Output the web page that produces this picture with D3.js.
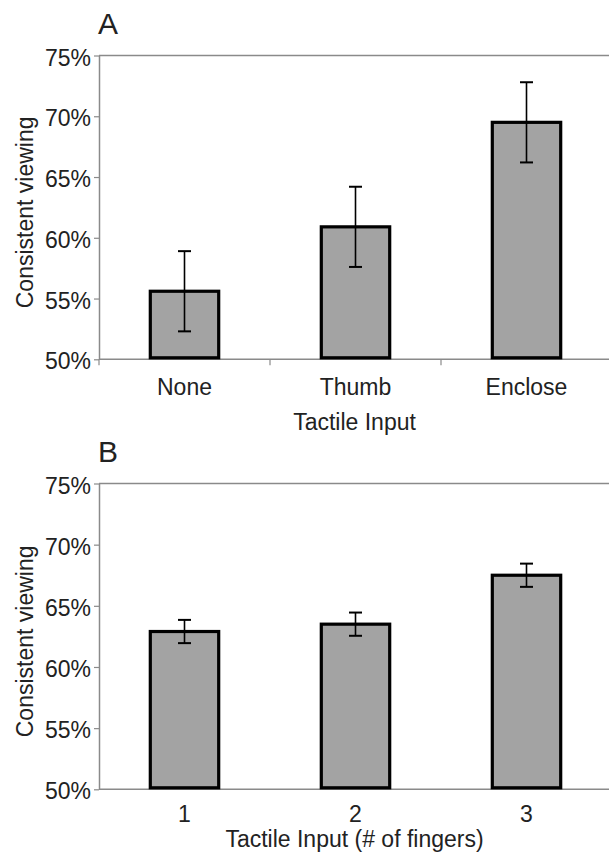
<!DOCTYPE html>
<html>
<head>
<meta charset="utf-8">
<script src="https://cdn.jsdelivr.net/npm/d3@7"></script>
<style>
  body { margin: 0; background: #fff; }
  svg { display: block; }
  text { font-family: "Liberation Sans", Arial, Helvetica, sans-serif; fill: #222; }
</style>
</head>
<body>
<svg id="chart" width="609" height="855"></svg>
<script>
// ====== Data ======
const categoriesA = ["None", "Thumb", "Enclose"];
const valuesA = [55.6, 60.9, 69.5];
const errorsA = [3.3, 3.3, 3.3];

const categoriesB = ["1", "2", "3"];
const valuesB = [62.9, 63.5, 67.5];
const errorsB = [0.95, 0.95, 0.95];

const yTicks = [50, 55, 60, 65, 70, 75];

// ====== Layout ======
const svg = d3.select("#chart");
const left = 99, right = 612;
const axisGray = "#8a8a8a";

function drawPanel(opt) {
  const { letter, cats, vals, errs, top, bottom, xTitle, xTickTicks, labelOff, titleOff } = opt;

  const x = d3.scaleBand().domain(cats).range([left, right]);
  const y = d3.scaleLinear().domain([50, 75]).range([bottom, top]);
  const g = svg.append("g");

  // frame top line
  g.append("line")
    .attr("x1", left).attr("x2", right)
    .attr("y1", top).attr("y2", top)
    .attr("stroke", axisGray).attr("stroke-width", 1.5);

  // y axis
  const yAxis = g.append("g")
    .attr("transform", `translate(${left},0)`)
    .call(d3.axisLeft(y).tickValues(yTicks).tickFormat(d => d + "%").tickSize(5).tickPadding(3).tickSizeOuter(0));
  yAxis.select(".domain").attr("stroke", axisGray).attr("stroke-width", 1.5);
  yAxis.selectAll(".tick line").attr("stroke", axisGray).attr("stroke-width", 1.2);
  yAxis.selectAll(".tick text")
    .attr("font-size", 23).attr("dy", "0.42em").style("fill", "#222");

  // x axis line
  g.append("line")
    .attr("x1", left).attr("x2", right)
    .attr("y1", bottom).attr("y2", bottom)
    .attr("stroke", axisGray).attr("stroke-width", 1.5);

  if (xTickTicks) {
    const bounds = cats.map(c => x(c));
    g.selectAll(".xtick").data(bounds).join("line")
      .attr("x1", d => d).attr("x2", d => d)
      .attr("y1", bottom).attr("y2", bottom + 6)
      .attr("stroke", axisGray).attr("stroke-width", 1.2);
  }

  // bars
  const bw = x.bandwidth() * 0.4;
  g.selectAll(".bar").data(vals).join("rect")
    .attr("x", (d, i) => x(cats[i]) + x.bandwidth() / 2 - bw / 2)
    .attr("y", d => y(d))
    .attr("width", bw)
    .attr("height", d => bottom - y(d) - 1.5)
    .attr("fill", "#a3a3a3")
    .attr("stroke", "#000")
    .attr("stroke-width", 3.2);

  // error bars
  const cap = 6.5;
  vals.forEach((v, i) => {
    const cx = x(cats[i]) + x.bandwidth() / 2;
    const y1 = y(v + errs[i]), y2 = y(v - errs[i]);
    g.append("line").attr("x1", cx).attr("x2", cx).attr("y1", y1).attr("y2", y2)
      .attr("stroke", "#000").attr("stroke-width", 1.6);
    [y1, y2].forEach(yy => {
      g.append("line").attr("x1", cx - cap).attr("x2", cx + cap).attr("y1", yy).attr("y2", yy)
        .attr("stroke", "#000").attr("stroke-width", 2);
    });
  });

  // category labels
  g.selectAll(".xlab").data(cats).join("text")
    .attr("x", d => x(d) + x.bandwidth() / 2)
    .attr("y", bottom + labelOff)
    .attr("text-anchor", "middle")
    .attr("font-size", 23)
    .text(d => d);

  // x title
  g.append("text")
    .attr("x", (left + 440) / 2 + 85)
    .attr("y", bottom + titleOff)
    .attr("text-anchor", "middle")
    .attr("font-size", 23)
    .text(xTitle);

  // y title
  g.append("text")
    .attr("transform", `translate(33,${(top + bottom) / 2 + 5}) rotate(-90)`)
    .attr("text-anchor", "middle")
    .attr("font-size", 23)
    .text("Consistent viewing");

  // panel letter
  g.append("text")
    .attr("x", 98).attr("y", top - 22)
    .attr("font-size", 30)
    .text(letter);
}

drawPanel({
  letter: "A", cats: categoriesA, vals: valuesA, errs: errorsA,
  top: 55.5, bottom: 359.3, xTitle: "Tactile Input", xTickTicks: true,
  labelOff: 36, titleOff: 71
});

drawPanel({
  letter: "B", cats: categoriesB, vals: valuesB, errs: errorsB,
  top: 483.5, bottom: 789.3, xTitle: "Tactile Input (# of fingers)", xTickTicks: false,
  labelOff: 33, titleOff: 58
});
</script>
</body>
</html>
